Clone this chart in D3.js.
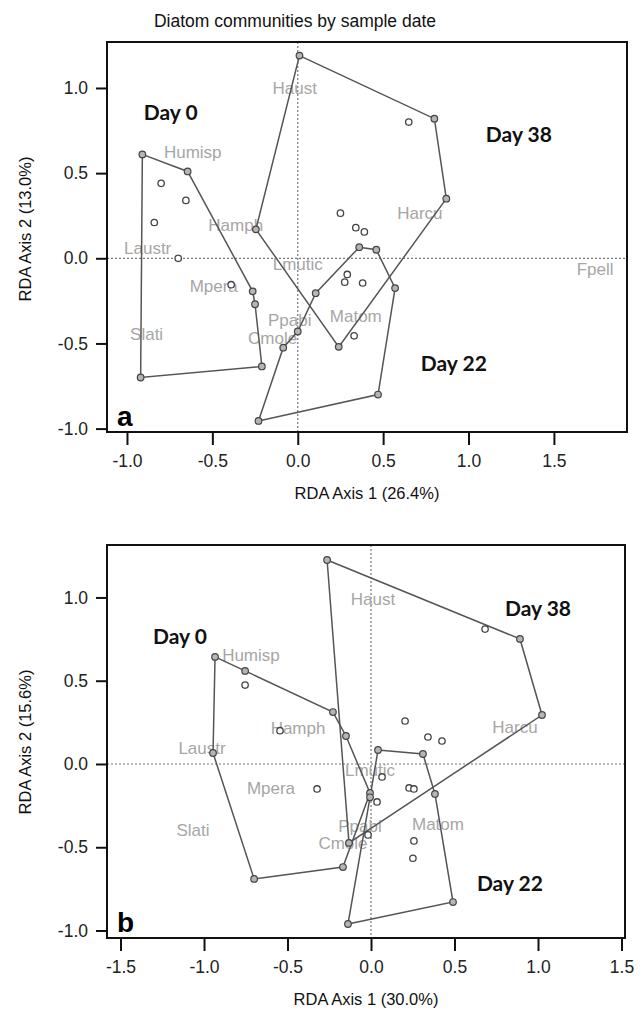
<!DOCTYPE html>
<html lang="en">
	<head>
		<meta charset="UTF-8" />
		<title>Diatom communities by sample date</title>
		<script src="https://d3js.org/d3.v7.min.js"></script>
		<style>
			body { margin: 0; background: #fff; }
			svg { display: block; background: #fff; }
			text { font-family: "Liberation Sans", Arial, sans-serif; }
			.hull { fill: none; stroke: #555; stroke-width: 1.5px; }
			.zero { stroke: #777; stroke-width: 1.2px; stroke-dasharray: 2,2; }
			.species { fill: #a6a6a6; font-size: 17px; }
			.day { font-family: Lato, "Open Sans", sans-serif; font-weight: 700; font-size: 21px; fill: #111; }
			.tick-label { font-size: 17.5px; fill: #222; }
			.axis-title { font-size: 16.5px; fill: #111; }
		</style>
	</head>
	<body>
		<svg width="643" height="1014"></svg>
		<script>
			// panel a : RDA axis 1 (26.4%) vs axis 2 (13.0%)
			const hullA_day0 = [[-0.91, 0.61], [-0.645, 0.51], [-0.264, -0.194], [-0.25, -0.27], [-0.21, -0.635], [-0.92, -0.70]];
			const hullA_day38 = [[0.01, 1.19], [0.80, 0.82], [0.87, 0.35], [0.24, -0.52], [-0.245, 0.17]];
			const hullA_day22 = [[0.36, 0.065], [0.46, 0.05], [0.57, -0.175], [0.47, -0.80], [-0.23, -0.955], [-0.085, -0.525], [0.0, -0.43], [0.105, -0.205]];
			const ptsA_day0 = [[-0.80, 0.44], [-0.655, 0.34], [-0.84, 0.21], [-0.70, 0.0], [-0.39, -0.155]];
			const ptsA_day38 = [[0.65, 0.80], [0.25, 0.265], [0.34, 0.18], [0.39, 0.155]];
			const ptsA_day22 = [[0.29, -0.095], [0.275, -0.14], [0.38, -0.145], [0.33, -0.455]];
			const speciesA = ['Haust', 'Humisp', 'Hamph', 'Laustr', 'Mpera', 'Slati', 'Lmutic', 'Ppabi', 'Cmole', 'Matom', 'Harcu', 'Fpell'];
			const speciesA_x = [-0.018, -0.615, -0.363, -0.879, -0.492, -0.885, 0.0, -0.047, -0.147, 0.34, 0.715, 1.741];
			const speciesA_y = [1.0, 0.624, 0.194, 0.059, -0.165, -0.447, -0.035, -0.365, -0.47, -0.341, 0.265, -0.065];
			const dayLabelA = [[-0.744, 0.853], [0.914, -0.618], [1.295, 0.724]];

			// panel b : RDA axis 1 (30.0%) vs axis 2 (15.6%)
			const hullB_day0 = [[-0.934, 0.643], [-0.754, 0.559], [-0.228, 0.312], [-0.15, 0.168], [-0.006, -0.174], [-0.168, -0.619], [-0.70, -0.69], [-0.946, 0.066]];
			const hullB_day38 = [[-0.263, 1.225], [0.892, 0.751], [1.024, 0.294], [-0.132, -0.474]];
			const hullB_day22 = [[0.042, 0.084], [0.311, 0.06], [0.383, -0.18], [0.491, -0.829], [-0.138, -0.961], [-0.006, -0.2]];
			const ptsB_day0 = [[-0.754, 0.474], [-0.545, 0.2], [-0.323, -0.15]];
			const ptsB_day38 = [[0.683, 0.81], [0.204, 0.258], [0.341, 0.162], [0.425, 0.138], [0.036, -0.228]];
			const ptsB_day22 = [[0.066, -0.078], [0.228, -0.144], [0.257, -0.15], [0.257, -0.462], [0.251, -0.566], [-0.018, -0.426]];
			const speciesB = ['Haust', 'Humisp', 'Hamph', 'Laustr', 'Mpera', 'Slati', 'Lmutic', 'Ppabi', 'Cmole', 'Matom', 'Harcu'];
			const speciesB_x = [0.012, -0.719, -0.437, -1.012, -0.599, -1.066, -0.006, -0.066, -0.168, 0.401, 0.862];
			const speciesB_y = [0.991, 0.655, 0.216, 0.096, -0.144, -0.396, -0.036, -0.372, -0.474, -0.36, 0.222];
			const dayLabelB = [[-1.144, 0.763], [0.832, -0.721], [1.0, 0.931]];

			const days = ['Day 0', 'Day 22', 'Day 38'];
			const ticksX_a = [-1, -0.5, 0, 0.5, 1, 1.5];
			const ticksX_b = [-1.5, -1, -0.5, 0, 0.5, 1, 1.5];
			const ticksY = [-1, -0.5, 0, 0.5, 1];

			const svg = d3.select('svg');
			const fmt = (v) => d3.format('.1f')(v).replace('\u2212', '-');

			svg.append('text')
				.attr('x', 295)
				.attr('y', 27)
				.attr('text-anchor', 'middle')
				.style('font-size', '17.5px')
				.style('fill', '#111')
				.text('Diatom communities by sample date');

			function drawPanel(p) {
				const x = d3.scaleLinear().domain(p.xDomain).range([p.left, p.right]);
				const y = d3.scaleLinear().domain(p.yDomain).range([p.bottom, p.top]);
				const g = svg.append('g');

				// zero lines
				g.append('line').attr('class', 'zero')
					.attr('x1', x(0)).attr('x2', x(0)).attr('y1', p.top).attr('y2', p.bottom);
				g.append('line').attr('class', 'zero')
					.attr('x1', p.left).attr('x2', p.right).attr('y1', y(0)).attr('y2', y(0));

				// species labels
				g.append('g').selectAll('text')
					.data(p.species)
					.enter()
					.append('text')
					.attr('class', 'species')
					.attr('x', (d, i) => x(p.spX[i]))
					.attr('y', (d, i) => y(p.spY[i]))
					.attr('dy', '0.35em')
					.attr('text-anchor', 'middle')
					.text((d) => d);

				const line = d3.line().x((d) => x(d[0])).y((d) => y(d[1])).curve(d3.curveLinearClosed);
				g.append('g').selectAll('path')
					.data(p.hulls)
					.enter()
					.append('path')
					.attr('class', 'hull')
					.attr('d', line);

				// hull vertices
				g.append('g').selectAll('circle')
					.data(p.hulls.flat())
					.enter()
					.append('circle')
					.attr('cx', (d) => x(d[0]))
					.attr('cy', (d) => y(d[1]))
					.attr('r', 3.3)
					.attr('fill', '#b5b5b5')
					.attr('stroke', '#444')
					.attr('stroke-width', 1.2);

				// other samples
				g.append('g').selectAll('circle')
					.data(p.points.flat())
					.enter()
					.append('circle')
					.attr('cx', (d) => x(d[0]))
					.attr('cy', (d) => y(d[1]))
					.attr('r', 3.2)
					.attr('fill', '#fff')
					.attr('stroke', '#444')
					.attr('stroke-width', 1.3);

				g.append('g').selectAll('text')
					.data(days)
					.enter()
					.append('text')
					.attr('class', 'day')
					.attr('x', (d, i) => x(p.dayPos[i][0]))
					.attr('y', (d, i) => y(p.dayPos[i][1]))
					.attr('dy', '0.35em')
					.attr('text-anchor', 'middle')
					.text((d) => d);

				g.append('text')
					.attr('x', p.left + 10)
					.attr('y', p.bottom - 6)
					.style('font-size', '28px')
					.style('font-weight', 'bold')
					.style('fill', '#000')
					.text(p.letter);

				// frame
				g.append('rect')
					.attr('x', p.left).attr('y', p.top)
					.attr('width', p.right - p.left).attr('height', p.bottom - p.top)
					.attr('fill', 'none').attr('stroke', '#111').attr('stroke-width', 2);

				const xAxis = g.append('g')
					.attr('transform', `translate(0,${p.bottom + 1})`)
					.call(d3.axisBottom(x).tickValues(p.ticksX).tickSize(12).tickSizeOuter(0).tickFormat(fmt));
				const yAxis = g.append('g')
					.attr('transform', `translate(${p.left - 1},0)`)
					.call(d3.axisLeft(y).tickValues(ticksY).tickSize(10).tickSizeOuter(0).tickFormat(fmt));
				[xAxis, yAxis].forEach((a) => {
					a.select('.domain').remove();
					a.selectAll('.tick line').attr('stroke', '#111').attr('stroke-width', 2);
					a.selectAll('.tick text').attr('class', 'tick-label').attr('fill', null).style('font-family', null);
					a.style('font-size', null).style('font-family', null);
				});
				xAxis.selectAll('.tick text').attr('y', 22);
				yAxis.selectAll('.tick text').attr('x', -18);

				g.append('text')
					.attr('class', 'axis-title')
					.attr('x', (p.left + p.right) / 2)
					.attr('y', p.bottom + 67)
					.attr('text-anchor', 'middle')
					.text(p.xTitle);
				g.append('text')
					.attr('class', 'axis-title')
					.attr('transform', `translate(31,${p.yTitleY}) rotate(-90)`)
					.attr('text-anchor', 'middle')
					.text(p.yTitle);
			}

			drawPanel({
				left: 107, right: 627, top: 42, bottom: 432,
				xDomain: [-1.117, 1.928], yDomain: [-1.02, 1.27],
				hulls: [hullA_day0, hullA_day22, hullA_day38],
				points: [ptsA_day0, ptsA_day22, ptsA_day38],
				species: speciesA, spX: speciesA_x, spY: speciesA_y,
				dayPos: dayLabelA, ticksX: ticksX_a, letter: 'a',
				xTitle: 'RDA Axis 1 (26.4%)', yTitle: 'RDA Axis 2 (13.0%)', yTitleY: 229
			});
			drawPanel({
				left: 107, right: 625, top: 545, bottom: 938,
				xDomain: [-1.581, 1.521], yDomain: [-1.045, 1.315],
				hulls: [hullB_day0, hullB_day22, hullB_day38],
				points: [ptsB_day0, ptsB_day22, ptsB_day38],
				species: speciesB, spX: speciesB_x, spY: speciesB_y,
				dayPos: dayLabelB, ticksX: ticksX_b, letter: 'b',
				xTitle: 'RDA Axis 1 (30.0%)', yTitle: 'RDA Axis 2 (15.6%)', yTitleY: 742
			});
		</script>
	</body>
</html>
